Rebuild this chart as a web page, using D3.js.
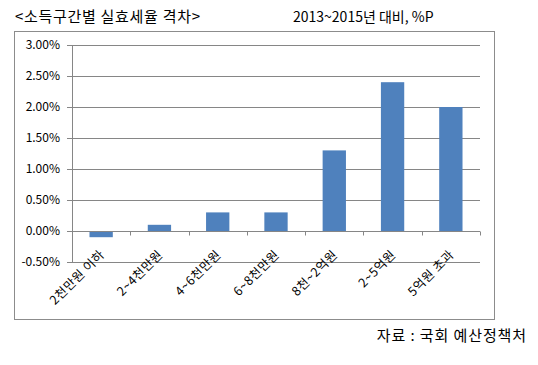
<!DOCTYPE html>
<html>
<head>
<meta charset="utf-8">
<script src="https://cdn.jsdelivr.net/npm/d3@7"></script>
<style>
  body { margin: 0; background: #fff; }
  text { font-family: "Noto Sans CJK KR", "Noto Sans", sans-serif; fill: #000; }
</style>
</head>
<body>
<svg></svg>
<script>
// data
var categories = ["2천만원 이하", "2~4천만원", "4~6천만원", "6~8천만원", "8천~2억원", "2~5억원", "5억원 초과"];
var values = [-0.10, 0.10, 0.30, 0.30, 1.30, 2.40, 2.00];
var yTicks = [-0.5, 0, 0.5, 1.0, 1.5, 2.0, 2.5, 3.0];

var titleText = "<소득구간별 실효세율 격차>";
var unitText = "2013~2015년 대비, %P";
var sourceText = "자료 : 국회 예산정책처";

var drawChart = function()
{
  var screen = { width: 538, height: 365 };
  var margins = { top: 45, left: 72, right: 58, bottom: 103 };
  var width = screen.width - margins.left - margins.right;
  var height = screen.height - margins.top - margins.bottom;

  var svg = d3.select('svg')
              .attr('width', screen.width)
              .attr('height', screen.height);

  // outer frame
  svg.append('rect')
     .attr('x', 14.5).attr('y', 31.5)
     .attr('width', 480).attr('height', 288)
     .attr('fill', 'none')
     .attr('stroke', '#8c8c8c');

  // titles
  svg.append('text').attr('x', 15).attr('y', 22)
     .style('font-size', '15px').style('letter-spacing', '0.7px')
     .text(titleText);
  svg.append('text').attr('x', 293).attr('y', 22)
     .style('font-size', '14px').text(unitText);
  svg.append('text').attr('x', 527).attr('y', 341)
     .attr('text-anchor', 'end')
     .style('font-size', '15px').style('letter-spacing', '0.9px')
     .text(sourceText);

  var xScale = d3.scaleBand()
                 .domain(categories)
                 .range([0, width])
                 .paddingInner(0.6)
                 .paddingOuter(0.3);
  var yScale = d3.scaleLinear()
                 .domain([-0.5, 3.0])
                 .range([height, 0]);

  var plotLand = svg.append('g')
                    .attr('transform', 'translate(' + margins.left + ',' + margins.top + ')');

  // gridlines
  plotLand.selectAll('line.grid')
          .data(yTicks)
          .enter().append('line')
          .attr('class', 'grid')
          .attr('x1', 0).attr('x2', width)
          .attr('y1', function(d){ return Math.round(yScale(d)) + 0.5; })
          .attr('y2', function(d){ return Math.round(yScale(d)) + 0.5; })
          .attr('stroke', '#868686');

  // y axis
  var yAxis = d3.axisLeft(yScale)
                .tickValues(yTicks)
                .tickSize(5)
                .tickPadding(7)
                .tickFormat(function(d){ return d.toFixed(2) + '%'; });
  var yA = plotLand.append('g').call(yAxis);
  yA.select('.domain').attr('stroke', '#868686');
  yA.selectAll('.tick line').attr('stroke', '#868686');
  yA.selectAll('.tick text').style('font-size', '12px');

  // bars
  plotLand.selectAll('rect.bar')
          .data(values)
          .enter().append('rect')
          .attr('class', 'bar')
          .attr('x', function(d, i){ return xScale(categories[i]); })
          .attr('width', xScale.bandwidth())
          .attr('y', function(d){ return yScale(Math.max(0, d)); })
          .attr('height', function(d){ return Math.abs(yScale(d) - yScale(0)); })
          .attr('fill', '#4f81bd');

  // category axis at zero
  var y0 = Math.round(yScale(0)) + 0.5;
  plotLand.append('line')
          .attr('x1', 0).attr('x2', width)
          .attr('y1', y0).attr('y2', y0)
          .attr('stroke', '#868686');
  var step = xScale.step();
  plotLand.selectAll('line.ctick')
          .data(d3.range(categories.length + 1))
          .enter().append('line')
          .attr('class', 'ctick')
          .attr('x1', function(d){ return Math.round(d * step) + 0.5; })
          .attr('x2', function(d){ return Math.round(d * step) + 0.5; })
          .attr('y1', y0).attr('y2', y0 + 4)
          .attr('stroke', '#868686');

  plotLand.selectAll('text.clabel')
          .data(categories)
          .enter().append('text')
          .attr('class', 'clabel')
          .attr('text-anchor', 'end')
          .attr('transform', function(d){
            var cx = xScale(d) + xScale.bandwidth() / 2 + 4;
            return 'translate(' + cx + ',' + (y0 + 24) + ') rotate(-45)';
          })
          .style('font-size', '12.5px')
          .style('letter-spacing', '0.5px')
          .text(function(d){ return d; });
}

drawChart();
</script>
</body>
</html>
